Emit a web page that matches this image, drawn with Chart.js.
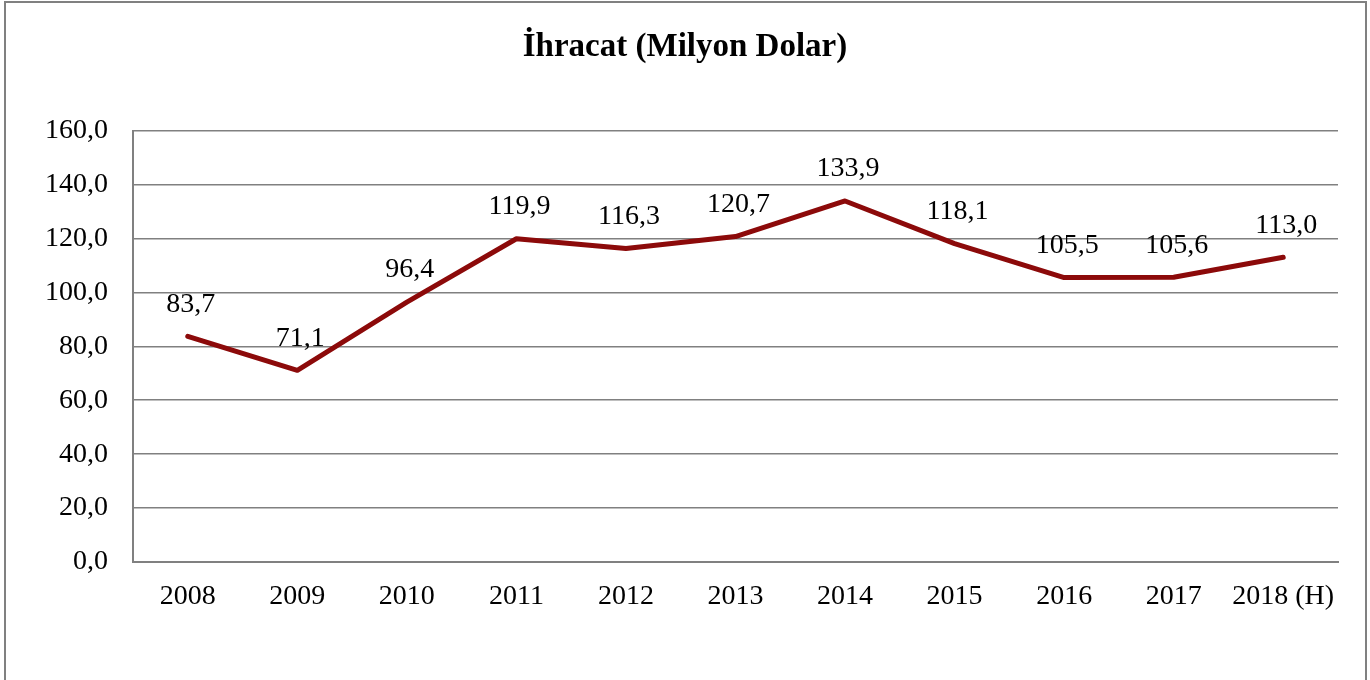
<!DOCTYPE html>
<html>
<head>
<meta charset="utf-8">
<script src="https://cdn.jsdelivr.net/npm/chart.js@4/dist/chart.umd.min.js"></script>
<style>
html,body{margin:0;padding:0;background:#fff;overflow:hidden;}
#wrap{position:relative;width:1370px;height:680px;}
</style>
</head>
<body>
<div id="wrap"><canvas id="c" width="1370" height="680"></canvas></div>
<script>
const categories = ['2008','2009','2010','2011','2012','2013','2014','2015','2016','2017','2018 (H)'];
const exportValues = [83.7, 71.1, 96.4, 119.9, 116.3, 120.7, 133.9, 118.1, 105.5, 105.6, 113.0];
const chartTitle = 'İhracat (Milyon Dolar)';
const yMin = 0, yMax = 160, yStep = 20;

const fmt = v => v.toFixed(1).replace('.', ',');
const FONT = "'Liberation Serif', 'Times New Roman', serif";

const frame = {
  id: 'frame',
  beforeDraw(chart) {
    const ctx = chart.ctx;
    ctx.save();
    ctx.fillStyle = '#fff';
    ctx.fillRect(0, 0, chart.width, chart.height);
    ctx.strokeStyle = '#808080';
    ctx.lineWidth = 2;
    ctx.strokeRect(5, 2, 1361, 720);
    ctx.restore();
  }
};

const labelsPlugin = {
  id: 'valueLabels',
  afterDatasetsDraw(chart) {
    const ctx = chart.ctx;
    const meta = chart.getDatasetMeta(0);
    ctx.save();
    ctx.font = '28px ' + FONT;
    ctx.fillStyle = '#000';
    ctx.textAlign = 'center';
    ctx.textBaseline = 'middle';
    meta.data.forEach((pt, i) => {
      ctx.fillText(fmt(exportValues[i]), pt.x + 3, pt.y - 32);
    });
    ctx.restore();
  }
};

new Chart(document.getElementById('c'), {
  type: 'line',
  data: {
    labels: categories,
    datasets: [{
      data: exportValues,
      borderColor: '#8C0A0A',
      borderWidth: 5,
      pointRadius: 0,
      tension: 0,
      borderCapStyle: 'round',
      borderJoinStyle: 'round',
      fill: false
    }]
  },
  options: {
    responsive: false,
    animation: false,
    layout: { padding: 0 },
    plugins: {
      legend: { display: false },
      tooltip: { enabled: false },
      title: {
        display: true,
        text: chartTitle,
        color: '#000',
        font: { family: FONT, size: 33, weight: 'bold' },
        padding: { top: 28, bottom: 63 }
      }
    },
    scales: {
      x: {
        offset: true,
        grid: { display: false, drawTicks: false },
        border: { display: true, color: '#808080', width: 2 },
        ticks: { color: '#000', font: { family: FONT, size: 28 }, padding: 18, maxRotation: 0, autoSkip: false },
        afterFit: s => { s.height = 118; }
      },
      y: {
        min: yMin, max: yMax,
        grid: { color: '#808080', lineWidth: 1.5, drawTicks: false },
        border: { display: true, color: '#808080', width: 2 },
        ticks: { stepSize: yStep, color: '#000', font: { family: FONT, size: 28 }, padding: 25, callback: v => fmt(v) },
        afterFit: s => { s.width = 133; }
      },
      yRight: {
        position: 'right',
        min: yMin, max: yMax,
        grid: { display: false, drawTicks: false },
        border: { display: false },
        ticks: { display: false },
        afterFit: s => { s.width = 32; }
      }
    }
  },
  plugins: [frame, labelsPlugin]
});
</script>
</body>
</html>
